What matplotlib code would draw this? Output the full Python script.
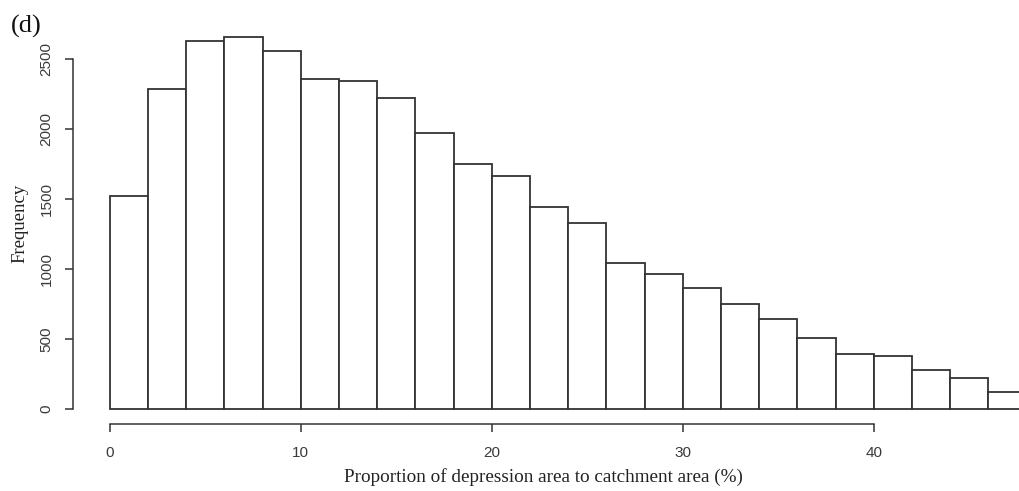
import numpy as np
import matplotlib
matplotlib.use("Agg")
import matplotlib.pyplot as plt

# histogram of depression share per catchment, 2% bins
bin_edges = np.arange(0, 50, 2)
counts = [1520, 2286, 2624, 2657, 2557, 2359, 2345, 2219, 1974, 1752,
          1662, 1445, 1331, 1045, 962, 862, 750, 641, 509, 393,
          379, 281, 224, 124]
x_ticks = [0, 10, 20, 30, 40]
y_ticks = [0, 500, 1000, 1500, 2000, 2500]

line_col = "#333333"

fig = plt.figure(figsize=(10.19, 4.91), dpi=100)
ax = fig.add_axes([73 / 1019, 1 - 424 / 491, 1 - 73 / 1019, (424 - 22) / 491])

ax.bar(bin_edges[:-1], counts, width=2, align="edge",
       facecolor="white", edgecolor=line_col, linewidth=1.3)

ax.set_xlim(-1.92, 47.6)
ax.set_ylim(-106, 2763)

for s in ["top", "right"]:
    ax.spines[s].set_visible(False)
ax.spines["left"].set_bounds(0, 2500)
ax.spines["bottom"].set_bounds(0, 40)
for s in ["left", "bottom"]:
    ax.spines[s].set_color(line_col)
    ax.spines[s].set_linewidth(1.1)

ax.set_xticks(x_ticks)
ax.set_yticks(y_ticks)
ax.tick_params(axis="both", length=6, width=1.1, color=line_col,
               labelcolor="#3a3a3a", labelsize=11)
ax.tick_params(axis="x", pad=10)
ax.tick_params(axis="y", pad=8)
for lbl in ax.get_xticklabels() + ax.get_yticklabels():
    lbl.set_family("Liberation Sans")
for lbl in ax.get_yticklabels():
    lbl.set_rotation(90)
    lbl.set_va("center")

fig.text(20 / 1019, 1 - 223 / 491, "Frequency", rotation=90, ha="center",
         va="center", family="Liberation Serif", fontsize=13.5, color="#222222")
fig.text(543 / 1019, 1 - 477 / 491,
         "Proportion of depression area to catchment area (%)",
         ha="center", va="center", family="Liberation Serif", fontsize=13.8,
         color="#222222")
fig.text(11 / 1019, 1 - 26 / 491, "(d)", ha="left", va="center",
         family="Liberation Serif", fontsize=19, color="#111111")

fig.savefig("out.png", dpi=100)
